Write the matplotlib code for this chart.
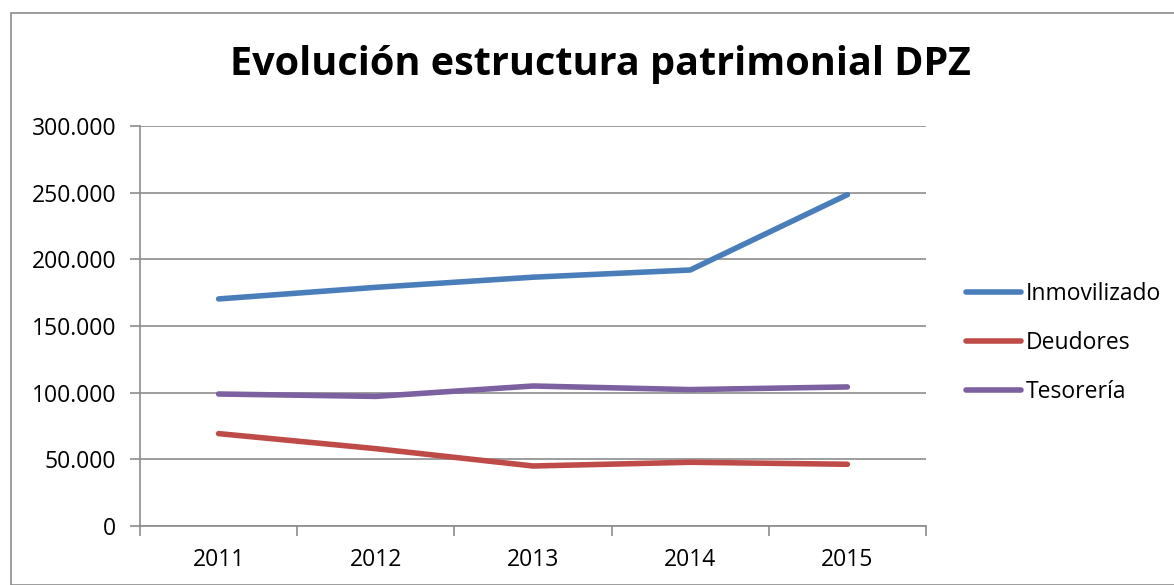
import matplotlib
matplotlib.use("Agg")
import matplotlib.pyplot as plt
from matplotlib.ticker import FuncFormatter, FixedLocator
from matplotlib.patches import Rectangle

years = ["2011", "2012", "2013", "2014", "2015"]
inmovilizado = [170300, 179000, 186600, 192000, 248500]
deudores = [69300, 58000, 45000, 47800, 46300]
tesoreria = [99000, 97200, 105000, 102300, 104300]
series_names = ["Inmovilizado", "Deudores", "Tesorería"]
colors = ["#4A7EBB", "#BE4B48", "#7D60A0"]
title = "Evolución estructura patrimonial DPZ"

plt.rcParams['font.family'] = ['Open Sans', 'DejaVu Sans']

fig = plt.figure(figsize=(11.74, 5.85), dpi=100)
W, H = 1174, 585
ax = fig.add_axes([140 / W, 1 - 526 / H, (926 - 140) / W, (526 - 126) / H])

x = list(range(len(years)))
for vals, name, c in zip([inmovilizado, deudores, tesoreria], series_names, colors):
    ax.plot(x, vals, color=c, lw=4, label=name, solid_capstyle='round', solid_joinstyle='round')

ax.set_xlim(-0.5, len(years) - 0.5)
ax.set_ylim(0, 300000)
ax.set_yticks(range(0, 300001, 50000))
ax.yaxis.set_major_formatter(FuncFormatter(lambda v, p: f"{int(v):,}".replace(",", ".")))
ax.grid(axis='y', color='#8C8C8C', lw=1.2)
ax.set_axisbelow(True)

ax.set_xticks(x)
ax.set_xticklabels(years)
ax.xaxis.set_minor_locator(FixedLocator([i - 0.5 for i in range(len(years) + 1)]))
ax.tick_params(axis='x', which='major', length=0, pad=16, labelsize=16.5)
ax.tick_params(axis='x', which='minor', length=7, color='#8C8C8C', width=1.2, direction='out')
ax.tick_params(axis='y', length=7, color='#8C8C8C', width=1.2, labelsize=16.5, pad=10)

for s in ['top', 'right']:
    ax.spines[s].set_visible(False)
for s in ['left', 'bottom']:
    ax.spines[s].set_color('#8C8C8C')
    ax.spines[s].set_linewidth(1.2)

fig.text(600 / W, 1 - 64 / H, title, ha='center', va='center', fontsize=28.5, fontweight='bold')

leg = fig.legend(loc='center left', bbox_to_anchor=(966 / W, 1 - 343 / H), frameon=False,
                 fontsize=16.5, handlelength=2.4, handletextpad=0.2, labelspacing=1.08,
                 borderaxespad=0, borderpad=0)

fig.patches.append(Rectangle((11 / W, 0), 1.5, 1 - 13 / H, transform=fig.transFigure,
                             fill=False, edgecolor='#8C8C8C', lw=1.2))

fig.savefig("out.png", dpi=100)
